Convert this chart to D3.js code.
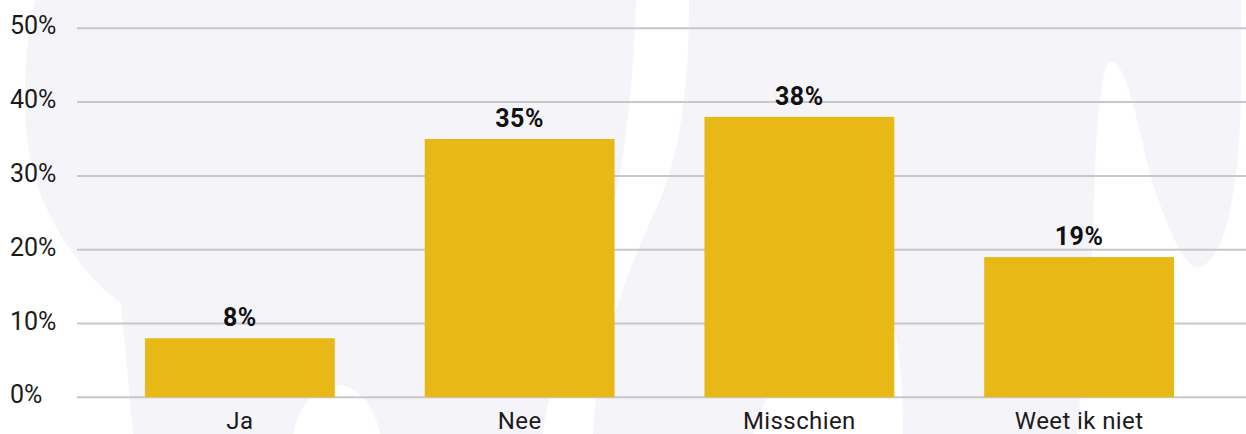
<html>
<head>
<meta charset="utf-8">
<script src="https://d3js.org/d3.v7.min.js"></script>
<style>
  body { margin: 0; background: #fff; }
  text { font-family: Roboto, "Liberation Sans", sans-serif; }
  .tick-label { font-size: 25px; fill: #1b1b1b; }
  .cat-label { font-size: 24px; fill: #1b1b1b; letter-spacing: 0.4px; }
  .val-label { font-size: 25px; font-weight: bold; fill: #111; letter-spacing: 0.5px; }
</style>
</head>
<body>
<div id="chart"></div>
<script>
var categories = ["Ja", "Nee", "Misschien", "Weet ik niet"];
var values = [8, 35, 38, 19];
var yTicks = [0, 10, 20, 30, 40, 50];

var w = 1246, h = 434;

var svg = d3.select("#chart").append("svg")
    .attr("width", w)
    .attr("height", h);

// decorative background shape
var bg = svg.append("g");
bg.append("path")
    .attr("fill", "#f5f4f9")
    .attr("d", "M35,0 C22,60 18,150 45,205 C65,250 95,285 121,303 L133,434 L1246,434 L1246,0 Z");
// white cut-outs
bg.selectAll("path.cut")
  .data([
    "M636,0 C633,110 620,200 590,290 C565,350 548,390 543,434 L593,434 C598,340 630,265 660,200 C680,150 689,90 689,0 Z",
    "M293,434 C300,400 320,385 337,385 C360,385 375,410 380,434 Z",
    "M753,434 C770,360 850,318 890,318 C898,330 903,380 903,434 Z",
    "M1246,0 L1241,0 L1241,90 C1240,190 1225,262 1199,267 C1185,270 1168,230 1150,175 C1135,110 1125,62 1111,62 C1101,62 1095,130 1093,243 L1077,434 L1246,434 Z"
  ])
  .enter().append("path")
    .attr("class", "cut")
    .attr("fill", "#fff")
    .attr("d", function(d) { return d; });

var x = d3.scaleBand()
    .domain(categories)
    .range([100, 1219])
    .paddingInner(90 / 280)
    .paddingOuter(45 / 280);

var y = d3.scaleLinear()
    .domain([0, 50])
    .range([397.3, 28.3]);

// gridlines
svg.append("g").selectAll("line")
    .data(yTicks)
    .enter().append("line")
    .attr("x1", 77)
    .attr("x2", w)
    .attr("y1", function(d) { return y(d); })
    .attr("y2", function(d) { return y(d); })
    .attr("stroke", "#c8c8c8")
    .attr("stroke-width", 2);

// y tick labels (left aligned)
svg.append("g").selectAll("text")
    .data(yTicks)
    .enter().append("text")
    .attr("class", "tick-label")
    .attr("x", 10)
    .attr("y", function(d) { return y(d) + 6; })
    .text(function(d) { return d + "%"; });

var data = categories.map(function(c, i) { return { cat: c, val: values[i] }; });

svg.append("g").selectAll("rect")
    .data(data)
    .enter().append("rect")
    .attr("x", function(d) { return x(d.cat); })
    .attr("y", function(d) { return y(d.val); })
    .attr("width", x.bandwidth())
    .attr("height", function(d) { return y(0) - y(d.val); })
    .attr("fill", "#e8b817");

svg.append("g").selectAll("text")
    .data(data)
    .enter().append("text")
    .attr("class", "val-label")
    .attr("text-anchor", "middle")
    .attr("x", function(d) { return x(d.cat) + x.bandwidth() / 2; })
    .attr("y", function(d) { return y(d.val) - 12; })
    .text(function(d) { return d.val + "%"; });

svg.append("g").selectAll("text")
    .data(data)
    .enter().append("text")
    .attr("class", "cat-label")
    .attr("text-anchor", "middle")
    .attr("x", function(d) { return x(d.cat) + x.bandwidth() / 2; })
    .attr("y", 429)
    .text(function(d) { return d.cat; });
</script>
</body>
</html>
